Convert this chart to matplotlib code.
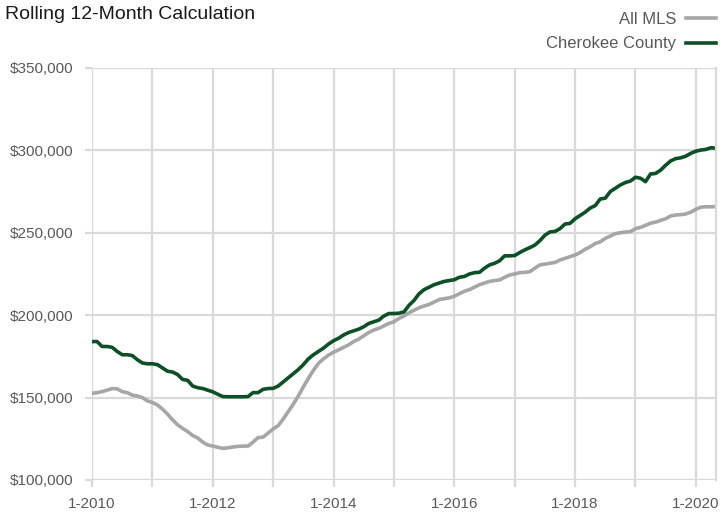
# Rolling 12-month median price: All MLS vs Cherokee County
import matplotlib
matplotlib.use("Agg")
import matplotlib.pyplot as plt
from matplotlib.ticker import FuncFormatter

# monthly values in $ thousands, Jan 2010 .. May 2020
cherokee = [
    184, 184, 181, 181, 180.5, 178, 176, 176, 175.5, 173, 171, 170.5,
    170.5, 170, 168, 166, 165.5, 164, 161, 160.5, 157, 156, 155.5, 154.5,
    153.5, 152, 150.6, 150.5, 150.5, 150.5, 150.5, 150.6, 153, 153, 155, 155.5,
    155.6, 157, 159.5, 162, 164.5, 167, 170, 173.5, 176, 178, 180, 182.5,
    184.5, 186, 188, 189.5, 190.5, 191.5, 193, 195, 196, 197, 199.5, 201,
    201, 201.2, 202, 206, 209, 213, 215.5, 217, 218.5, 219.5, 220.5, 221,
    221.5, 223, 223.5, 225, 225.8, 226, 228.5, 230.5, 231.5, 233, 236, 236,
    236.2, 238, 239.6, 241, 242.5, 245.2, 248.5, 250.5, 250.8, 252.5, 255.3, 255.7,
    258.5, 260.5, 262.5, 265, 266.5, 270.5, 271, 275, 277, 279, 280.5, 281.4,
    283.7, 283.1, 281, 285.7, 286, 288, 291, 293.6, 295, 295.5, 296.5, 298.2,
    299.5, 300.2, 300.6, 301.6, 301.3,
]
all_mls = [
    152.6, 153, 153.6, 154.5, 155.5, 155.3, 153.6, 153, 151.5, 151, 150, 148,
    147, 145.5, 143, 140, 136.5, 133.5, 131.3, 129.4, 127, 125.5, 123, 121.2,
    120.6, 119.8, 119.2, 119.5, 120, 120.4, 120.5, 120.6, 123, 125.7, 126, 128.5,
    131, 133, 137, 141.5, 146, 151, 156.5, 161.7, 166.5, 170.8, 173.5, 175.8,
    177.5, 179, 180.5, 182, 184, 185.5, 187.5, 189.5, 191, 192, 193.5, 195,
    196, 198, 199.5, 201.5, 203, 204.5, 205.6, 206.5, 208, 209.5, 210, 210.5,
    211.5, 213, 214.5, 215.5, 217, 218.5, 219.5, 220.5, 221, 221.4, 223, 224.4,
    225, 225.8, 226, 226.4, 228.5, 230.5, 231, 231.5, 232, 233.5, 234.5, 235.5,
    236.5, 238, 240, 241.5, 243.5, 244.5, 246.6, 248, 249.5, 250, 250.5, 250.7,
    252.5, 253.3, 254.5, 255.8, 256.5, 257.5, 258.5, 260.2, 260.8, 261, 261.4, 262.5,
    264.3, 265.5, 265.8, 265.8, 265.8,
]
years = list(range(2010, 2021))
year_labels = ["1-%d" % y if (y - 2010) % 2 == 0 else "" for y in years]

plt.rcParams['font.family'] = ['Liberation Sans Narrow', 'Liberation Sans', 'DejaVu Sans']

grid_c = "#d9d9d9"
text_c = "#595959"

fig = plt.figure(figsize=(7.2, 5.15), dpi=100)
ax = fig.add_axes([0.1278, 0.068, 0.8666, 0.800])

months = range(len(cherokee))
ax.plot(months, [v * 1000 for v in all_mls], color="#a6a6a6", lw=2.6,
        label="All MLS", solid_joinstyle="round")
ax.plot(months, [v * 1000 for v in cherokee], color="#0d4f26", lw=2.6,
        label="Cherokee County", solid_joinstyle="round")

ax.set_xlim(0, len(cherokee) - 1)
ax.set_ylim(100000, 350000)
ax.set_yticks(range(100000, 350001, 50000))
ax.yaxis.set_major_formatter(FuncFormatter(lambda v, p: "${:,.0f}".format(v)))
ax.set_xticks([(y - 2010) * 12 for y in years])
ax.set_xticklabels(year_labels)

ax.grid(True, color=grid_c, lw=1.6)
ax.set_axisbelow(True)
for s in ["left", "top", "bottom"]:
    ax.spines[s].set_visible(False)
ax.spines["right"].set_color(grid_c)
ax.spines["right"].set_linewidth(1.6)
ax.tick_params(axis="y", length=5, width=1.6, color=grid_c, pad=8,
               labelsize=11, labelcolor=text_c)
ax.tick_params(axis="x", length=5, width=1.6, color=grid_c, pad=7,
               labelsize=11, labelcolor=text_c)

fig.text(0.007, 0.972, "Rolling 12-Month Calculation", fontsize=14,
         color="#1a1a1a", va="center", ha="left")

leg = ax.legend(markerfirst=False, loc="lower right", bbox_to_anchor=(1.0, 1.04),
                frameon=False, fontsize=12, handlelength=1.8, handletextpad=0.6,
                labelspacing=0.55, borderaxespad=0.0, borderpad=0.0)
for t in leg.get_texts():
    t.set_color(text_c)

fig.savefig("out.png", dpi=100)
